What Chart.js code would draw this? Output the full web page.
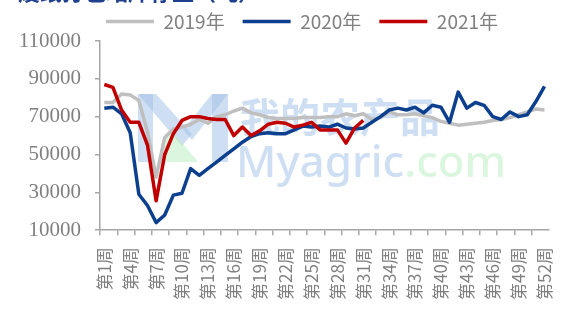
<!DOCTYPE html>
<html>
<head>
<meta charset="utf-8">
<script src="https://cdn.jsdelivr.net/npm/chart.js@4/dist/chart.umd.min.js"></script>
<style>
  html, body { margin: 0; padding: 0; background: #fff; overflow: hidden; }
  #wrap { position: relative; width: 577px; height: 310px; overflow: hidden; }
  #titulo { position: absolute; left: 18px; top: -21px; font-family: "Noto Sans CJK SC", sans-serif; font-weight: bold; font-size: 22px; line-height: 22px; color: #1f3f8f; white-space: nowrap; z-index: 2; }
  canvas { position: absolute; left: 0; top: 0; }
</style>
</head>
<body>
<div id="wrap">
  <canvas id="grafico" width="577" height="310"></canvas>
  <div id="titulo">废纸打包站库存量（吨）</div>
</div>
<script>
// ==============================
// Datos
// ==============================
const semanas = Array.from({ length: 52 }, (_, i) => `第${i + 1}周`);

const serie2019 = [
  77500, 77500, 82000, 81500, 78500, 62000, 38000, 59000, 63500, 64500,
  66000, 68500, 66500, 70000, 71000, 73000, 74500, 72000, 71000, 69500,
  69000, 69000, 69000, 69500, 69500, 69500, 70000, 70000, 71500, 70500,
  71500, 68500, 69500, 72500, 71000, 71000, 71500, 70500, 69500, 67500,
  66500, 65500, 66000, 66500, 67000, 68000, 68500, 69500, 71000, 72500,
  74000, 73500
];

const serie2020 = [
  74500, 75000, 71500, 61500, 29000, 23000, 14000, 18000, 28500, 29500,
  42500, 39000, 42500, 46000, 49500, 53000, 56500, 59500, 61000, 61500,
  61000, 61000, 63000, 65000, 64500, 65000, 64500, 66000, 64000, 63500,
  64000, 67000, 70000, 73500, 74500, 73500, 75000, 72000, 76000, 75000,
  67000, 83000, 74500, 77500, 76000, 70000, 68500, 72500, 70000, 71000,
  78000, 86000
];

const serie2021 = [
  87000, 85500, 73500, 67000, 67000, 55000, 25500, 50000, 61000, 68000,
  70000, 70000, 69000, 68500, 68500, 60000, 64500, 60000, 62500, 66000,
  67000, 66500, 64500, 65500, 67000, 63000, 63000, 63000, 56000, 64000,
  68000
];

const nombres = ['2019年', '2020年', '2021年'];
const colores = ['#bfbfbf', '#0d3f8f', '#c00000'];

// ==============================
// Plugins
// ==============================
const marcaAgua = {
  id: 'marcaAgua',
  beforeDatasetsDraw(chart) {
    const c = chart.ctx;
    c.save();
    c.fillStyle = 'rgba(160,192,232,0.5)';
    c.fillRect(138, 94, 15, 68);
    c.fillRect(212, 94, 16, 68);
    c.beginPath(); c.moveTo(138, 94); c.lineTo(156, 94); c.lineTo(192, 134); c.lineTo(182, 146); c.closePath(); c.fill();
    c.beginPath(); c.moveTo(212, 94); c.lineTo(228, 94); c.lineTo(192, 140); c.lineTo(183, 130); c.closePath(); c.fill();
    c.fillStyle = 'rgba(190,238,195,0.55)';
    c.beginPath(); c.moveTo(158, 162); c.lineTo(198, 162); c.lineTo(170, 128); c.closePath(); c.fill();
    c.fillStyle = 'rgba(160,192,232,0.5)';
    c.font = 'bold 40px "Noto Sans CJK SC"';
    c.textBaseline = 'alphabetic';
    c.fillText('我的农产品', 240, 132);
    c.font = '500 44px "Noto Sans"';
    c.fillText('Myagric', 236, 177);
    const w = c.measureText('Myagric').width;
    c.fillStyle = 'rgba(195,240,200,0.6)';
    c.fillText('.com', 236 + w, 177);
    c.restore();
  }
};

// corre la leyenda un poco a la derecha (el eje Y ocupa todo el margen izquierdo)
const moverLeyenda = {
  id: 'moverLeyenda',
  afterLayout(chart) {
    if (chart.legend) { chart.legend.left += 12; chart.legend.right += 12; }
  }
};

// ==============================
// Gráfica
// ==============================
const ctx = document.getElementById('grafico').getContext('2d');
new Chart(ctx, {
  type: 'line',
  data: {
    labels: semanas,
    datasets: [serie2019, serie2020, serie2021].map((d, i) => ({
      label: nombres[i],
      data: d,
      borderColor: colores[i],
      backgroundColor: colores[i],
      borderWidth: 3.5,
      pointRadius: 0,
      tension: 0,
      borderJoinStyle: 'round',
      order: 3 - i
    }))
  },
  options: {
    responsive: false,
    animation: false,
    layout: { padding: { left: 12, right: 9, top: -6, bottom: -2 } },
    plugins: {
      tooltip: { enabled: false },
      legend: {
        position: 'top',
        labels: {
          usePointStyle: true,
          pointStyle: 'line',
          pointStyleWidth: 48,
          padding: 18,
          color: '#808080',
          font: { family: '"Noto Sans CJK SC"', size: 19 },
          sort: (a, b) => a.datasetIndex - b.datasetIndex
        }
      }
    },
    scales: {
      x: {
        offset: true,
        grid: {
          offset: true,
          drawOnChartArea: false,
          tickLength: 5,
          lineWidth: 1.5,
          color: (c) => (c.index % 2 === 0 ? '#a6a6a6' : 'rgba(0,0,0,0)')
        },
        border: { display: true, color: '#a6a6a6', width: 1.5 },
        ticks: {
          autoSkip: false,
          minRotation: 90,
          maxRotation: 90,
          padding: 12,
          color: '#808080',
          font: { family: '"Noto Sans CJK SC"', size: 17 },
          callback: (v, i) => (i % 3 === 0 ? semanas[i] : '')
        }
      },
      y: {
        min: 10000,
        max: 110000,
        afterFit: (s) => { s.width = 88; },
        grid: { drawOnChartArea: false, tickLength: 5, color: '#a6a6a6', lineWidth: 1.5 },
        border: { display: true, color: '#a6a6a6', width: 1.5 },
        ticks: {
          stepSize: 20000,
          padding: 14,
          color: '#808080',
          font: { family: '"Liberation Serif"', size: 21 },
          callback: (v) => String(v)
        }
      }
    }
  },
  plugins: [marcaAgua, moverLeyenda]
});
</script>
</body>
</html>
